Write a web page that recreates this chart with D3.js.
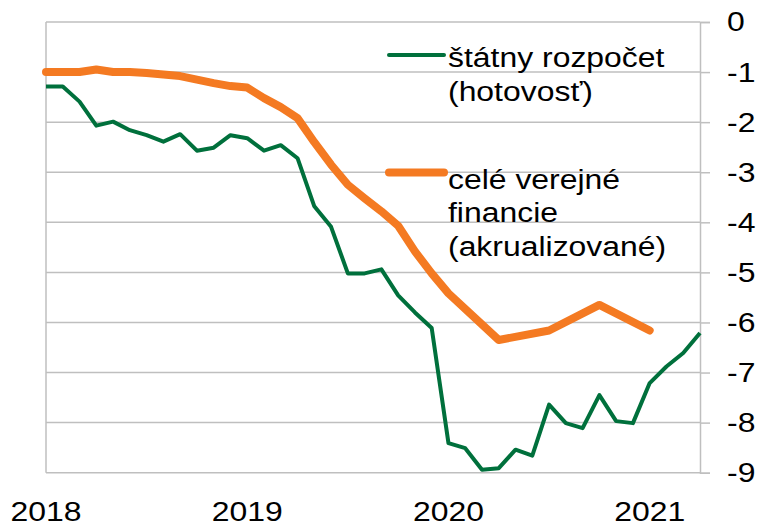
<!DOCTYPE html>
<html>
<head>
<meta charset="utf-8">
<script src="https://cdn.jsdelivr.net/npm/d3@7"></script>
<style>
    body { margin: 0; background: #fff; }
    svg { display: block; font-family: "Liberation Sans", Arial, sans-serif; }
</style>
</head>
<body>
<div id="chart"></div>
<script>
// Month index 0 = Jan 2018
const yearLabels = ['2018', '2019', '2020', '2021'];
const yearTicks = [0, 12, 24, 36];
const yTicks = [0, -1, -2, -3, -4, -5, -6, -7, -8, -9];

// štátny rozpočet (hotovosť) – monthly, Jan 2018 .. Apr 2021
const stateMonths = d3.range(0, 40);
const stateValues = [
    -1.29, -1.29, -1.59, -2.07, -1.99, -2.16, -2.26, -2.39, -2.24, -2.57, -2.51, -2.26,
    -2.32, -2.57, -2.46, -2.72, -3.68, -4.09, -5.02, -5.02, -4.94, -5.46, -5.80, -6.11,
    -8.41, -8.51, -8.94, -8.91, -8.54, -8.66, -7.64, -8.01, -8.11, -7.45, -7.97, -8.01,
    -7.21, -6.88, -6.61, -6.21
];

// celé verejné financie (akrualizované)
const publicMonths = [0, 1, 2, 3, 4, 5, 6, 7, 8, 9, 10, 11, 12, 13, 14, 15, 16, 17, 18, 19, 20, 21, 22, 23, 24, 27, 30, 33, 36];
const publicValues = [
    -1.0, -1.0, -1.0, -0.95, -1.0, -1.0, -1.02, -1.05, -1.08, -1.15, -1.22, -1.28,
    -1.31, -1.52, -1.70, -1.92, -2.40, -2.85, -3.25, -3.52, -3.78, -4.07, -4.58, -5.02,
    -5.42, -6.35, -6.16, -5.65, -6.16
];

const legendItems = [
    { label: ['štátny rozpočet', '(hotovosť)'], color: '#00703C', width: 4 },
    { label: ['celé verejné', 'financie', '(akrualizované)'], color: '#F47A22', width: 8 }
];

const config = {
    width: 759,
    height: 527,
    left: 46,
    right: 700,
    top: 22,
    bottom: 472.7,
    grid: '#BFBFBF',
    font: 28,
    stretch: 1.14   // text in the picture is a bit wider than Arial
};

const svg = d3.select('#chart').append('svg')
    .attr('width', config.width)
    .attr('height', config.height);

const x = d3.scaleLinear().domain([0, 39]).range([config.left, config.right]);
const y = d3.scaleLinear().domain([-9, 0]).range([config.bottom, config.top]);

const place = (tx, ty) => `translate(${tx},${ty}) scale(${config.stretch},1)`;

// Gridlines
svg.append('g')
    .selectAll('line')
    .data(yTicks)
    .enter().append('line')
    .attr('x1', config.left)
    .attr('x2', config.right)
    .attr('y1', d => y(d))
    .attr('y2', d => y(d))
    .attr('stroke', config.grid)
    .attr('stroke-width', 1.5);

// Left border
svg.append('line')
    .attr('x1', config.left).attr('x2', config.left)
    .attr('y1', config.top).attr('y2', config.bottom)
    .attr('stroke', config.grid)
    .attr('stroke-width', 1.5);

// Right axis
const yAxis = svg.append('g')
    .attr('transform', `translate(${config.right},0)`)
    .call(d3.axisRight(y).tickValues(yTicks).tickSize(10).tickFormat(d3.format('d')));
yAxis.select('.domain').attr('stroke', config.grid).attr('stroke-width', 1.5);
yAxis.selectAll('.tick line').attr('stroke', config.grid).attr('stroke-width', 1.5);
yAxis.selectAll('.tick text')
    .attr('x', 0)
    .attr('transform', place(27, 0))
    .attr('fill', '#000')
    .style('font-size', config.font + 'px')
    .style('font-family', '"Liberation Sans", Arial, sans-serif')
    .text(d => d === 0 ? '0' : '-' + Math.abs(d));

// X labels
svg.append('g')
    .selectAll('text')
    .data(yearTicks)
    .enter().append('text')
    .attr('transform', d => place(x(d), 521))
    .attr('text-anchor', 'middle')
    .style('font-size', config.font + 'px')
    .text((d, i) => yearLabels[i]);

// Lines
const line = d3.line()
    .x(d => x(d[0]))
    .y(d => y(d[1]));

svg.append('path')
    .datum(publicMonths.map((m, i) => [m, publicValues[i]]))
    .attr('fill', 'none')
    .attr('stroke', legendItems[1].color)
    .attr('stroke-width', legendItems[1].width)
    .attr('stroke-linejoin', 'round')
    .attr('stroke-linecap', 'round')
    .attr('d', line);

svg.append('path')
    .datum(stateMonths.map((m, i) => [m, stateValues[i]]))
    .attr('fill', 'none')
    .attr('stroke', legendItems[0].color)
    .attr('stroke-width', legendItems[0].width)
    .attr('stroke-linejoin', 'round')
    .attr('d', line);

// Legend
const legendY = [55, 172.5];
const legendBaselines = [[66.5, 100.5], [189, 222, 255.5]];
legendItems.forEach((item, i) => {
    svg.append('line')
        .attr('x1', 389).attr('x2', 444)
        .attr('y1', legendY[i]).attr('y2', legendY[i])
        .attr('stroke', item.color)
        .attr('stroke-width', item.width)
        .attr('stroke-linecap', 'round');
    item.label.forEach((t, j) => {
        svg.append('text')
            .attr('transform', place(448, legendBaselines[i][j]))
            .style('font-size', config.font + 'px')
            .text(t);
    });
});
</script>
</body>
</html>
